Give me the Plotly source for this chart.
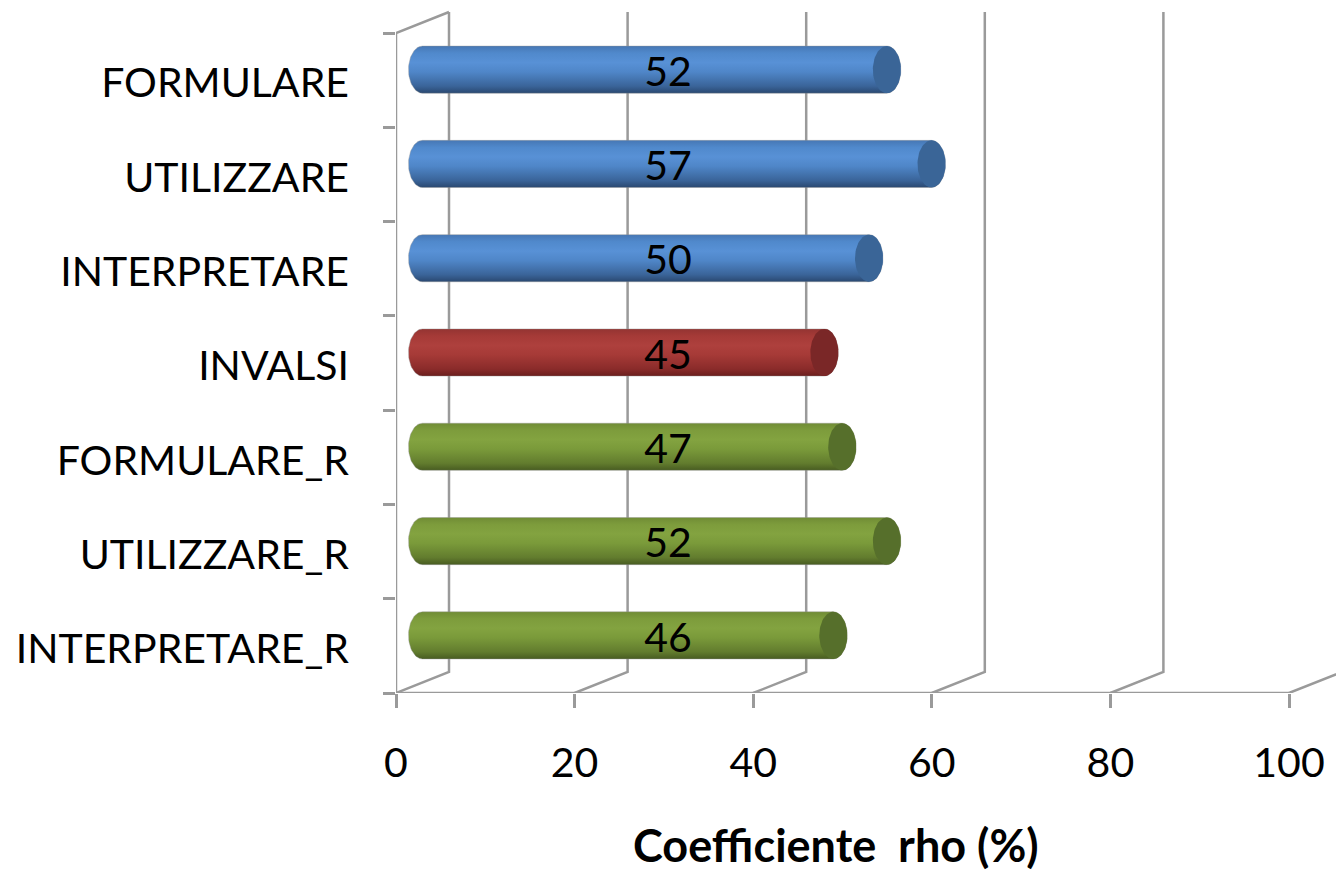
import numpy as np
import plotly.graph_objects as go

# ---- data -------------------------------------------------------------
categories = ["FORMULARE", "UTILIZZARE", "INTERPRETARE", "INVALSI",
              "FORMULARE_R", "UTILIZZARE_R", "INTERPRETARE_R"]
rho_values = [52, 57, 50, 45, 47, 52, 46]
series_group = ["comp", "comp", "comp", "invalsi", "rel", "rel", "rel"]
x_ticks = [0, 20, 40, 60, 80, 100]
x_title = "Coefficiente\u00a0 rho (%)"

# ---- styling ----------------------------------------------------------
palettes = {
    "comp": dict(scale=[[0.0, "#2a4870"], [0.15, "#3a6499"], [0.45, "#4f86c8"],
                        [0.65, "#5891d6"], [0.85, "#5089cc"], [1.0, "#4677b4"]],
                 cap="#3a6597"),
    "invalsi": dict(scale=[[0.0, "#6a1e1d"], [0.15, "#8a2b2a"], [0.45, "#a63a37"],
                           [0.65, "#ae403d"], [0.85, "#a53a37"], [1.0, "#943432"]],
                    cap="#7a2727"),
    "rel": dict(scale=[[0.0, "#485c21"], [0.15, "#627c2e"], [0.45, "#7a9a3a"],
                       [0.65, "#83a340"], [0.85, "#7d9c3c"], [1.0, "#708c35"]],
                cap="#566f2b"),
}
GRID = "#9a9a9a"
FONT = "Lato"
FS = 41

W, H = 1336, 873
LEFT, BOTTOM_MARGIN = 396, 180
PX = 8.93                       # pixels per percentage point on the front plane
CAT_PX = (693 - 33) / 7         # pixels per category band
X_MAX = (W - LEFT) / PX
Y_MIN = -0.5
Y_MAX = len(categories) - 0.5 + 33 / CAT_PX
DX = 53 / PX                    # depth offset of the back wall (x units)
DY = 21 / CAT_PX                # depth offset of the back wall (category units)
RX = 14 / PX                    # cylinder end-cap half width
RY = 0.25                       # cylinder half thickness
LABEL_X = 27.5
LABEL_DROP = 6 / CAT_PX         # baseline correction for the value labels
CAT_LABEL_DROP = 3 / CAT_PX     # baseline correction for the category labels

n = len(categories)
ypos = list(range(n))           # bottom-to-top category index
cats_bt = categories[::-1]
vals_bt = rho_values[::-1]
grp_bt = series_group[::-1]

fig = go.Figure()

# ---- 3-D frame: floor, back wall gridlines, left wall edge -----------
fx, fy = [], []
for t in x_ticks:
    fx += [t, t + DX, t + DX, None]
    fy += [Y_MIN, Y_MIN + DY, n - 0.5 + DY, None]
fx += [x_ticks[0], x_ticks[-1], None, 0, 0, DX]
fy += [Y_MIN, Y_MIN, None, Y_MIN, n - 0.5, n - 0.5 + DY]
fig.add_trace(go.Scatter(x=fx, y=fy, mode="lines", xaxis="x", yaxis="y",
                         line=dict(color=GRID, width=2.5), hoverinfo="skip",
                         showlegend=False))

# category label axis carrier (invisible)
fig.add_trace(go.Scatter(x=[None] * n, y=ypos, mode="markers", xaxis="x",
                         yaxis="y3", hoverinfo="skip", showlegend=False,
                         marker=dict(opacity=0)))

# ---- cylinders ---------------------------------------------------------
t = np.linspace(0, np.pi, 40)
for yi, v, g in zip(ypos, vals_bt, grp_bt):
    pal = palettes[g]
    bx = np.concatenate([-RX * np.sin(t), v + RX * np.sin(t), [-0.0]])
    by = np.concatenate([yi + RY * np.cos(t), yi - RY * np.cos(t), [yi + RY]])
    fig.add_trace(go.Scatter(
        x=bx, y=by, mode="lines", fill="toself", xaxis="x2", yaxis="y2",
        line=dict(width=0.8, color="rgba(150,150,150,0.5)"),
        fillgradient=dict(type="vertical", colorscale=pal["scale"]),
        hoverinfo="skip", showlegend=False))
    tt = np.linspace(0, 2 * np.pi, 80)
    fig.add_trace(go.Scatter(
        x=v + RX * np.sin(tt), y=yi + RY * np.cos(tt), mode="lines",
        fill="toself", fillcolor=pal["cap"], line=dict(width=0),
        xaxis="x2", yaxis="y2", hoverinfo="skip", showlegend=False))

# value labels
fig.add_trace(go.Scatter(
    x=[LABEL_X] * n, y=[y - LABEL_DROP for y in ypos], mode="text",
    text=[str(v) for v in vals_bt],
    textposition="middle center", textfont=dict(family=FONT, size=FS, color="black"),
    xaxis="x2", yaxis="y2", hoverinfo="skip", showlegend=False))

# ---- layout ------------------------------------------------------------
fig.update_layout(
    width=W, height=H, autosize=False,
    margin=dict(l=LEFT, r=0, t=0, b=BOTTOM_MARGIN, pad=0),
    paper_bgcolor="white", plot_bgcolor="white",
    font=dict(family=FONT, size=FS, color="black"),
    hovermode=False,
    xaxis=dict(range=[0, X_MAX], tickvals=x_ticks, ticks="outside", ticklen=14,
               tickwidth=2.5, tickcolor=GRID, showline=False, showgrid=False,
               zeroline=False, ticklabelstandoff=20,
               tickfont=dict(family=FONT, size=FS, color="black")),
    yaxis=dict(range=[Y_MIN, Y_MAX], tickvals=[i - 0.5 for i in range(n + 1)],
               ticks="outside", ticklen=12, tickwidth=2.5, tickcolor=GRID,
               showticklabels=False, showline=False, showgrid=False, zeroline=False),
    yaxis3=dict(range=[Y_MIN + CAT_LABEL_DROP, Y_MAX + CAT_LABEL_DROP],
                overlaying="y", anchor="x", side="left",
                tickvals=ypos, ticktext=cats_bt, ticks="", showgrid=False,
                zeroline=False, showline=False, ticklabelstandoff=46,
                tickfont=dict(family=FONT, size=FS, color="black")),
    xaxis2=dict(range=[-DX / 2, X_MAX - DX / 2], overlaying="x", anchor="y2",
                visible=False),
    yaxis2=dict(range=[Y_MIN - DY / 2, Y_MAX - DY / 2], overlaying="y",
                anchor="x2", visible=False),
    annotations=[dict(text="<b>" + x_title + "</b>", xref="paper", yref="paper",
                      x=(836 - LEFT) / (W - LEFT), y=-(845 - 693) / 693,
                      xanchor="center", yanchor="middle", showarrow=False,
                      font=dict(family=FONT, size=45, color="black"))],
)

fig.write_html("out.html")
